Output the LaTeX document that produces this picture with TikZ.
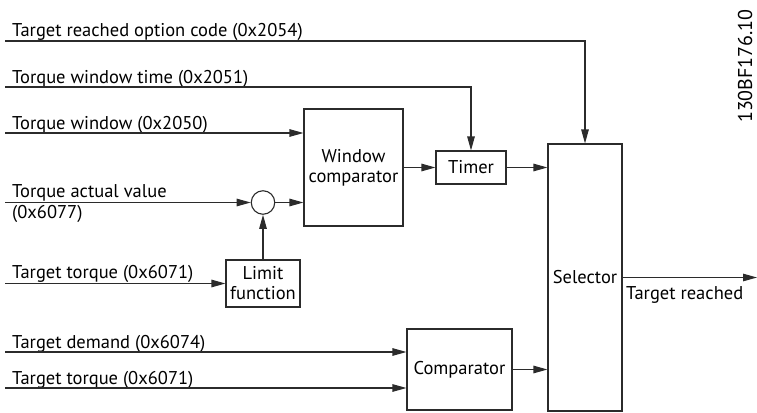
\documentclass[tikz,border=0pt]{standalone}
\usepackage{fontspec}
\setmainfont{PT Sans}
\usetikzlibrary{arrows.meta,calc}
\definecolor{ink}{HTML}{2B2B2B}
\tikzset{
  wire/.style={draw=ink, line width=1.1pt},
  arr/.style={wire, -{Triangle[length=14pt,width=7.5pt]}},
  blk/.style={draw=ink, line width=1.1pt, fill=white, inner sep=0pt, align=center, font=\fontsize{18.5}{20}\selectfont},
  lbl/.style={inner sep=0pt, font=\fontsize{18.5}{20}\selectfont, text=black},
}
\begin{document}
\begin{tikzpicture}[x=1pt,y=-1pt]
\useasboundingbox (0,0) rectangle (757,412);

% processing blocks
\node[blk, minimum width=99pt, minimum height=117pt] (wc) at (353.5,167.5) {Window\\comparator};
\node[blk, minimum width=70pt, minimum height=33pt] (timer) at (471,167.5) {Timer};
\node[blk, minimum width=74pt, minimum height=267pt] (sel) at (585,277.5) {Selector};
\node[blk, minimum width=74pt, minimum height=47pt] (lim) at (263,283.5) {Limit\\function};
\node[blk, minimum width=105pt, minimum height=81pt] (comp) at (459.5,369.5) {Comparator};
\node[draw=ink, line width=1.1pt, circle, minimum size=23.5pt, inner sep=0pt] (circ) at (263,202.5) {};

% input line start points
\coordinate (s1) at (5,41);
\coordinate (s2) at (5,87);
\coordinate (s3) at (5,133);
\coordinate (s4) at (5,202.5);
\coordinate (s5) at (5,283.5);
\coordinate (s6) at (5,352);
\coordinate (s7) at (5,388);
\coordinate (out) at (757,277.5);

% input labels
\node[lbl, anchor=base west] (t1) at (12,37) {Target reached option code (0x2054)};
\node[lbl, anchor=base west] (t2) at (12,83) {Torque window time (0x2051)};
\node[lbl, anchor=base west] (t3) at (12,129) {Torque window (0x2050)};
\node[lbl, anchor=base west] (t4) at (12,197) {Torque actual value};
\node[lbl, anchor=base west] (t4b) at (12,218) {(0x6077)};
\node[lbl, anchor=base west] (t5) at (12,278) {Target torque (0x6071)};
\node[lbl, anchor=base west] (t6) at (12,348) {Target demand (0x6074)};
\node[lbl, anchor=base west] (t7) at (12,384) {Target torque (0x6071)};
\node[lbl, anchor=base west] (t8) at (626,299) {Target reached};
\node[lbl, rotate=90, anchor=base west, font=\fontsize{20}{22}\selectfont] (code) at (752,123) {130BF176.10};

% connections
\draw[arr] (s1) -| (sel.north);
\draw[arr] (s2) -| (timer.north);
\draw[arr] (s3) -- (s3 -| wc.west);
\draw[arr] (s4) -- (circ.west);
\draw[arr] (circ.east) -- (circ.east -| wc.west);
\draw[arr] (s5) -- (lim.west);
\draw[arr] (lim.north) -- (circ.south);
\draw[arr] (wc.east |- timer.west) -- (timer.west);
\draw[arr] (timer.east) -- (timer.east -| sel.west);
\draw[arr] (s6) -- (s6 -| comp.west);
\draw[arr] (s7) -- (s7 -| comp.west);
\draw[arr] (comp.east) -- (comp.east -| sel.west);
\draw[arr] (sel.east) -- (out);
\end{tikzpicture}
\end{document}
